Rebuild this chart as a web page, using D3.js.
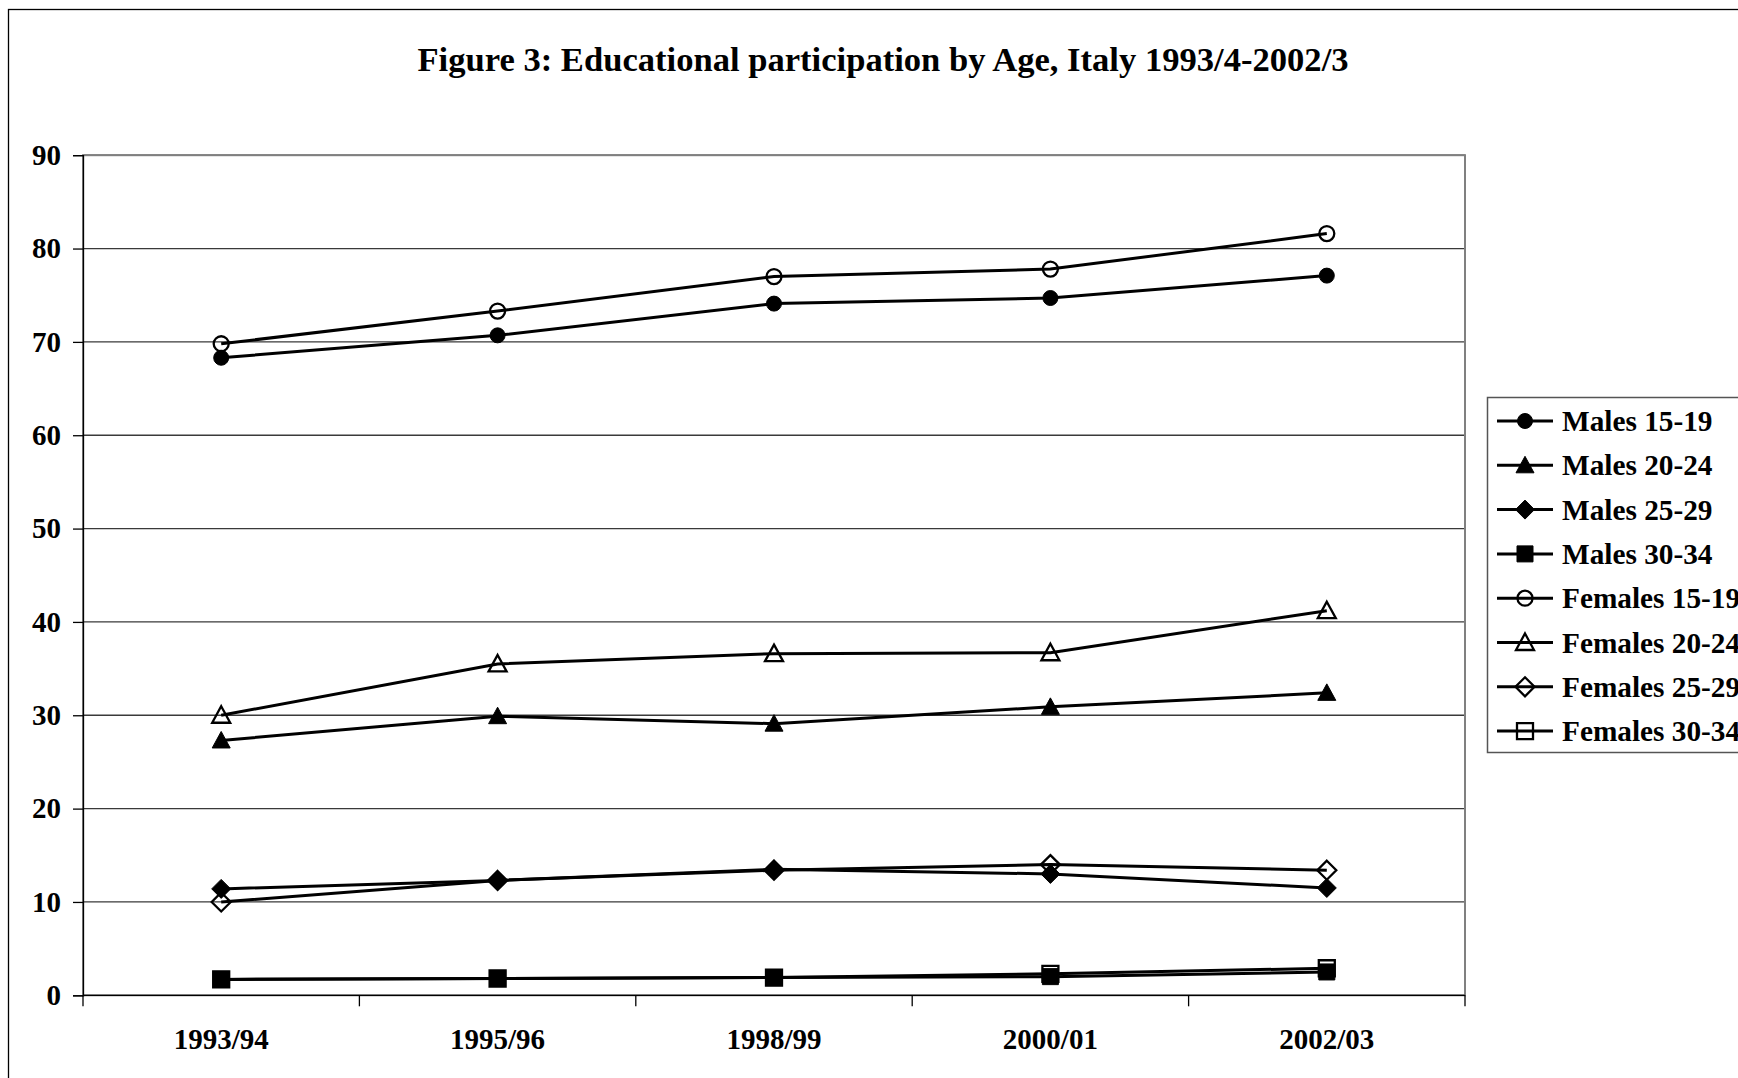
<!DOCTYPE html>
<html>
<head>
<meta charset="utf-8">
<script src="https://cdn.jsdelivr.net/npm/d3@7"></script>
<style>
  html, body { margin: 0; padding: 0; background: #fff; }
  svg { display: block; }
  text { font-family: "Liberation Serif", "Times New Roman", serif; font-weight: bold; fill: #000; }
</style>
</head>
<body>
<svg id="chart" width="1738" height="1078"></svg>
<script>
// Survey years on the x axis
const years = ["1993/94", "1995/96", "1998/99", "2000/01", "2002/03"];

// Participation rates (%) by sex and age group
const males1519   = [68.3, 70.7, 74.1, 74.7, 77.1];
const males2024   = [27.3, 29.9, 29.1, 30.9, 32.4];
const males2529   = [11.4, 12.3, 13.5, 13.0, 11.5];
const males3034   = [1.7, 1.8, 1.9, 2.0, 2.5];
const females1519 = [69.8, 73.3, 77.0, 77.8, 81.6];
const females2024 = [30.0, 35.5, 36.6, 36.7, 41.2];
const females2529 = [10.0, 12.3, 13.4, 14.0, 13.4];
const females3034 = [1.7, 1.8, 1.9, 2.3, 2.9];

const seriesNames = ["Males 15-19", "Males 20-24", "Males 25-29", "Males 30-34",
                     "Females 15-19", "Females 20-24", "Females 25-29", "Females 30-34"];
const seriesValues = [males1519, males2024, males2529, males3034,
                      females1519, females2024, females2529, females3034];
const markerShapes = ["circle", "triangle", "diamond", "square",
                      "circle", "triangle", "diamond", "square"];
const markerFilled = [true, true, true, true, false, false, false, false];

const yTicks = [0, 10, 20, 30, 40, 50, 60, 70, 80, 90];
const title = "Figure 3: Educational participation by Age, Italy 1993/4-2002/3";

const svg = d3.select("#chart");

// Outer chart frame (runs past the right and bottom edges)
svg.append("rect")
  .attr("x", 8.5).attr("y", 9.5)
  .attr("width", 1900).attr("height", 1200)
  .attr("fill", "#fff").attr("stroke", "#000").attr("stroke-width", 1.3);

const plot = { left: 83, right: 1465, top: 155.2, bottom: 995.3 };

const x = d3.scaleBand().domain(years).range([plot.left, plot.right]);
const y = d3.scaleLinear().domain([0, 90]).range([plot.bottom, plot.top]);
const cx = d => x(d) + x.bandwidth() / 2;

// Title
svg.append("text")
  .attr("x", 883).attr("y", 71)
  .attr("text-anchor", "middle")
  .style("font-size", "34.6px")
  .text(title);

// Horizontal gridlines
svg.append("g")
  .selectAll("line")
  .data(yTicks.filter(v => v > 0))
  .join("line")
  .attr("x1", plot.left).attr("x2", plot.right)
  .attr("y1", d => y(d)).attr("y2", d => y(d))
  .attr("stroke", "#3a3a3a").attr("stroke-width", 1.3);

// Plot area border
svg.append("rect")
  .attr("x", plot.left).attr("y", plot.top)
  .attr("width", plot.right - plot.left).attr("height", plot.bottom - plot.top)
  .attr("fill", "none").attr("stroke", "#808080").attr("stroke-width", 2);

// Y axis
const yAxis = svg.append("g")
  .attr("transform", `translate(${plot.left},0)`)
  .call(d3.axisLeft(y).tickValues(yTicks).tickSize(10).tickPadding(12).tickFormat(d3.format("d")));
yAxis.select(".domain").attr("stroke", "#000").attr("stroke-width", 1.3);
yAxis.selectAll(".tick line").attr("stroke", "#000").attr("stroke-width", 1.3);
yAxis.selectAll(".tick text")
  .style("font-family", "'Liberation Serif', 'Times New Roman', serif")
  .style("font-weight", "bold")
  .style("font-size", "29px")
  .attr("fill", "#000");

// X axis: tick marks sit on category boundaries, labels centred under categories
const xAxisG = svg.append("g");
xAxisG.append("line")
  .attr("x1", plot.left).attr("x2", plot.right)
  .attr("y1", plot.bottom).attr("y2", plot.bottom)
  .attr("stroke", "#000").attr("stroke-width", 1.3);
const boundaries = years.map(d => x(d)).concat([x(years[years.length - 1]) + x.bandwidth()]);
xAxisG.selectAll("line.tick")
  .data(boundaries)
  .join("line")
  .attr("class", "tick")
  .attr("x1", d => d).attr("x2", d => d)
  .attr("y1", plot.bottom).attr("y2", plot.bottom + 11)
  .attr("stroke", "#000").attr("stroke-width", 1.3);
xAxisG.selectAll("text")
  .data(years)
  .join("text")
  .attr("x", d => cx(d)).attr("y", 1049)
  .attr("text-anchor", "middle")
  .style("font-size", "29px")
  .text(d => d);

// Marker path generator
function markerPath(shape) {
  switch (shape) {
    case "circle":   return "M7.5,0A7.5,7.5 0 1,1 -7.5,0A7.5,7.5 0 1,1 7.5,0Z";
    case "triangle": return "M0,-9L9,7.5L-9,7.5Z";
    case "diamond":  return "M0,-9.5L9.5,0L0,9.5L-9.5,0Z";
    case "square":   return "M-8,-8H8V8H-8Z";
  }
}
function drawMarker(g, shape, filled) {
  return g.append("path")
    .attr("d", markerPath(shape))
    .attr("fill", filled ? "#000" : "none")
    .attr("stroke", "#000")
    .attr("stroke-width", filled ? 1 : 2.3)
    .attr("stroke-linejoin", "miter");
}

// Series lines and markers
const line = d3.line().x((d, i) => cx(years[i])).y(d => y(d));
seriesValues.forEach((vals, s) => {
  const g = svg.append("g");
  g.append("path")
    .datum(vals)
    .attr("d", line)
    .attr("fill", "none")
    .attr("stroke", "#000")
    .attr("stroke-width", 3);
  vals.forEach((v, i) => {
    drawMarker(g, markerShapes[s], markerFilled[s])
      .attr("transform", `translate(${cx(years[i])},${y(v)})`);
  });
});

// Legend
const legend = svg.append("g");
legend.append("rect")
  .attr("x", 1487.5).attr("y", 397.5)
  .attr("width", 400).attr("height", 355)
  .attr("fill", "#fff").attr("stroke", "#555").attr("stroke-width", 1.5);
seriesNames.forEach((name, s) => {
  const yy = 421 + s * 44.3;
  legend.append("line")
    .attr("x1", 1497).attr("x2", 1553)
    .attr("y1", yy).attr("y2", yy)
    .attr("stroke", "#000").attr("stroke-width", 3);
  drawMarker(legend, markerShapes[s], markerFilled[s])
    .attr("transform", `translate(1525,${yy})`);
  legend.append("text")
    .attr("x", 1562).attr("y", yy + 10)
    .style("font-size", "29.3px")
    .text(name);
});
</script>
</body>
</html>
